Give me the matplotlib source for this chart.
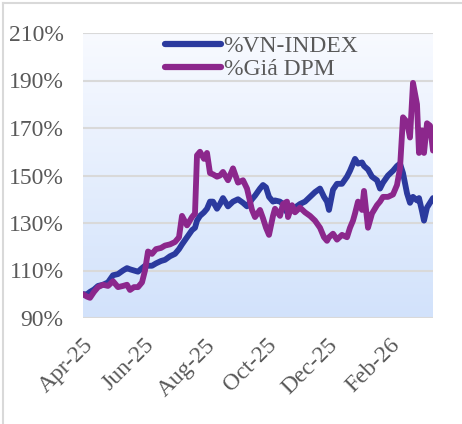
import matplotlib
matplotlib.use("Agg")
import matplotlib.pyplot as plt
import matplotlib.dates as mdates
import numpy as np
import pandas as pd
from matplotlib.lines import Line2D

dates = [
    "2025-04-01", "2025-04-05", "2025-04-08", "2025-04-12", "2025-04-16", "2025-04-21",
    "2025-04-26", "2025-05-01", "2025-05-06", "2025-05-11", "2025-05-15", "2025-05-18",
    "2025-05-22", "2025-05-26", "2025-05-30", "2025-06-02", "2025-06-05", "2025-06-09",
    "2025-06-13", "2025-06-18", "2025-06-22", "2025-06-27", "2025-07-02", "2025-07-06",
    "2025-07-09", "2025-07-14", "2025-07-19", "2025-07-22", "2025-07-24", "2025-07-27",
    "2025-07-31", "2025-08-03", "2025-08-06", "2025-08-09", "2025-08-13", "2025-08-16",
    "2025-08-19", "2025-08-24", "2025-08-29", "2025-09-03", "2025-09-08", "2025-09-12",
    "2025-09-17", "2025-09-20", "2025-09-25", "2025-09-28", "2025-10-01", "2025-10-04",
    "2025-10-08", "2025-10-10", "2025-10-15", "2025-10-18", "2025-10-22", "2025-10-23",
    "2025-10-27", "2025-10-30", "2025-11-04", "2025-11-09", "2025-11-14", "2025-11-19",
    "2025-11-24", "2025-11-28", "2025-12-01", "2025-12-03", "2025-12-07", "2025-12-11",
    "2025-12-16", "2025-12-21", "2025-12-24", "2025-12-27", "2025-12-29", "2026-01-01",
    "2026-01-05", "2026-01-07", "2026-01-11", "2026-01-15", "2026-01-20", "2026-01-23",
    "2026-01-26", "2026-01-31", "2026-02-05", "2026-02-09", "2026-02-12", "2026-02-15",
    "2026-02-19", "2026-02-22", "2026-02-25", "2026-03-01", "2026-03-03", "2026-03-06",
    "2026-03-08", "2026-03-11", "2026-03-14", "2026-03-17",
]

vnindex = [
    100, 100, 101, 102, 103.5, 104,
    105, 108, 108.5, 110, 111, 110.5,
    110, 109.5, 111, 112, 112, 112,
    113, 114, 114.5, 116, 117, 119,
    121, 124, 127, 128, 131, 133,
    134.5, 136, 139, 139, 136, 138,
    140.5, 137, 139, 140, 138.5, 137,
    140, 141.5, 144.5, 146, 145, 141,
    139, 139.5, 139, 138, 134.5, 135,
    135.5, 136.5, 138, 139, 141, 143,
    144.5, 141, 139, 135.5, 144, 146.5,
    146.5, 149.5, 152, 155, 157, 155,
    155.5, 154, 152.5, 149.5, 148, 144.5,
    147, 150, 152, 154, 155, 151,
    142.5, 138.5, 141, 139.5, 140.5, 135,
    131, 136.5, 138.5, 140.5,
]

dpm = [
    100, 99, 98.5, 101, 103, 104,
    103.5, 105.5, 103, 103.5, 104, 101.8,
    103, 103, 105, 110, 118, 117,
    119, 119.5, 120.5, 121, 122, 124,
    133, 129, 132.5, 134, 158.5, 160,
    157, 159.5, 151, 150.5, 149.5, 150,
    151.5, 148, 153, 147, 148, 144.5,
    135.5, 132.5, 135.5, 132, 128, 125,
    133, 136, 133, 138, 139, 132.5,
    137.5, 134.5, 136.5, 134.5, 133, 131,
    128, 124, 122.5, 124, 125.5, 123,
    125, 124, 128, 131, 134, 139,
    135.5, 143.5, 128, 134, 137.5, 139,
    141, 141, 142, 146, 153, 174.5,
    172.5, 166, 189, 180, 159.5, 169,
    159.5, 172, 171, 160.5,
]

labels = ["%VN-INDEX", "%Giá DPM"]
colors = ["#2b3a9e", "#8c278c"]
yticks = [90, 110, 130, 150, 170, 190, 210]

x = pd.to_datetime(dates)

W, H = 462, 424
fig = plt.figure(figsize=(W / 100, H / 100), dpi=100)
fig.patch.set_facecolor("white")

# chart border (light gray)
fig.add_artist(Line2D([3 / W, 3 / W], [0, 1 - 3 / H], transform=fig.transFigure,
                      color="#d9d9d9", lw=1.5))
fig.add_artist(Line2D([3 / W, 1], [1 - 3 / H, 1 - 3 / H], transform=fig.transFigure,
                      color="#d9d9d9", lw=1.5))

ax = fig.add_axes([83 / W, 1 - 318 / H, 350 / W, 285 / H])

# gradient background
top = np.array([0xf8, 0xfa, 0xff]) / 255
bot = np.array([0xd2, 0xe2, 0xfb]) / 255
t = np.linspace(0, 1, 256)[:, None]
grad = (top[None, :] * (1 - t) + bot[None, :] * t)[:, None, :]
ax.imshow(grad, aspect="auto", extent=[0, 1, 0, 1], transform=ax.transAxes,
          zorder=0, interpolation="bilinear")

for v in yticks:
    ax.axhline(v, color="#d9d9d9", lw=1.5, zorder=1)

ax.plot(x, vnindex, color=colors[0], lw=4.2, solid_joinstyle="round",
        solid_capstyle="round", zorder=3, label=labels[0])
ax.plot(x, dpm, color=colors[1], lw=4.2, solid_joinstyle="round",
        solid_capstyle="round", zorder=4, label=labels[1])

ax.set_xlim(x[0], x[-1])
ax.set_ylim(90, 210)
ax.set_yticks(yticks)
ax.set_yticklabels([f"{v}%" for v in yticks])

ax.xaxis.set_major_locator(mdates.MonthLocator(bymonth=[4, 6, 8, 10, 12, 2]))
ax.xaxis.set_major_formatter(mdates.DateFormatter("%b-%y"))

for s in ax.spines.values():
    s.set_visible(False)
ax.tick_params(axis="both", length=0, colors="#595959", labelsize=17,
               labelfontfamily="Liberation Serif")
ax.tick_params(axis="y", pad=14)
ax.tick_params(axis="x", pad=12)
for lab in ax.get_xticklabels():
    lab.set_rotation(45)
    lab.set_ha("right")
    lab.set_va("top")
    lab.set_rotation_mode("anchor")

handles = [Line2D([0], [0], color=c, lw=4.5, solid_capstyle="round") for c in colors]
leg = ax.legend(handles, labels, loc="upper center", bbox_to_anchor=(0.51, 1.065),
                frameon=False, handlelength=2.4, handletextpad=0.1,
                labelspacing=0.05, prop={"family": "Liberation Serif", "size": 17})
for txt in leg.get_texts():
    txt.set_color("#595959")

fig.savefig("out.png", dpi=100, facecolor="white")
